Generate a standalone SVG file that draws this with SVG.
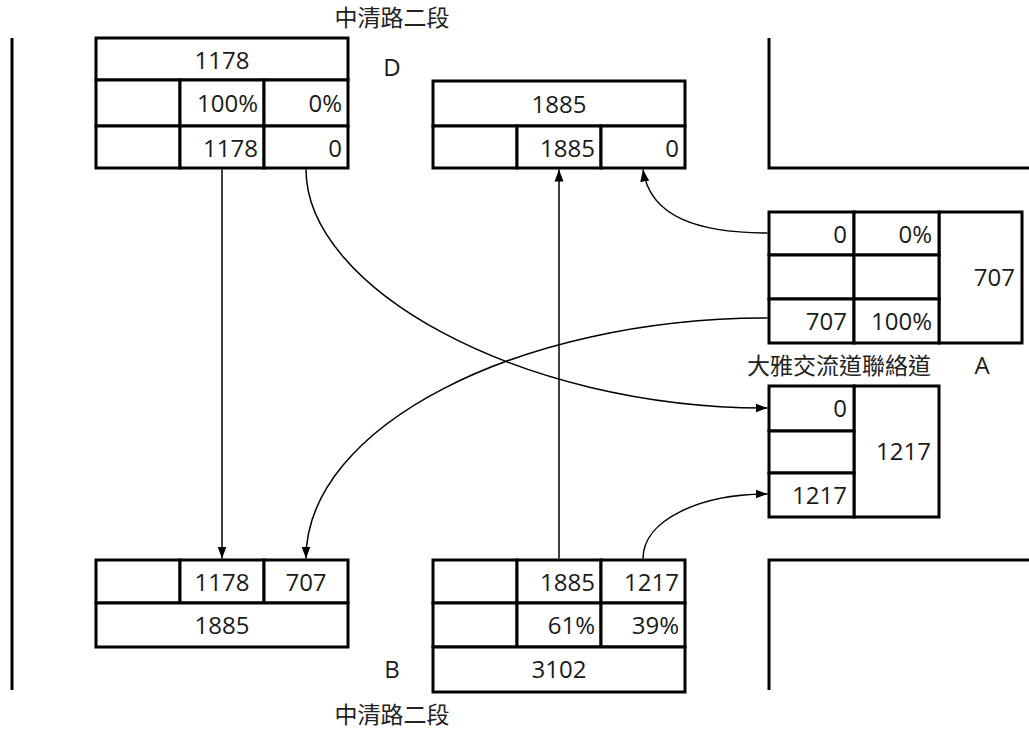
<svg xmlns="http://www.w3.org/2000/svg" width="1029" height="731" viewBox="0 0 1029 731">
<style>
.c{fill:#fff;stroke:#000;stroke-width:3}
.w{fill:none;stroke:#000;stroke-width:3}
.t{font-family:"Open Sans","Noto Sans CJK TC",sans-serif;font-size:24px;fill:#1a1a1a}
.m{text-anchor:middle}
.r{text-anchor:end}
.zh{font-family:"Noto Sans CJK TC",sans-serif;font-size:23px;fill:#222}
.e{fill:none;stroke:#000;stroke-width:1.5}
</style>
<defs>
<marker id="ah" markerUnits="userSpaceOnUse" markerWidth="12" markerHeight="10" refX="12" refY="5" orient="auto">
<path d="M0,0.5 L12,5 L0,9.5 z" fill="#000"/>
</marker>
</defs>
<rect width="1029" height="731" fill="#fff"/>
<g id="walls">
<line class="w" x1="12" y1="38" x2="12" y2="690"/>
<polyline class="w" points="769,38 769,168 1029,168"/>
<polyline class="w" points="1029,560 769,560 769,690"/>
</g>
<g id="labels">
<text class="zh m" x="392" y="26">中清路二段</text>
<text class="zh m" x="392" y="723">中清路二段</text>
<text class="zh" x="747" y="374">大雅交流道聯絡道</text>
<text class="t m" x="392" y="76">D</text>
<text class="t m" x="392" y="678">B</text>
<text class="t m" x="982" y="374">A</text>
</g>
<g id="nodeD1">
<rect class="c" x="96" y="38" width="252" height="42"/>
<rect class="c" x="96" y="80" width="84" height="46"/>
<rect class="c" x="180" y="80" width="84" height="46"/>
<rect class="c" x="264" y="80" width="84" height="46"/>
<rect class="c" x="96" y="126" width="84" height="42"/>
<rect class="c" x="180" y="126" width="84" height="42"/>
<rect class="c" x="264" y="126" width="84" height="42"/>
<text class="t m" x="222" y="69">1178</text>
<text class="t r" x="258" y="112">100%</text>
<text class="t r" x="342" y="112">0%</text>
<text class="t r" x="258" y="156.5">1178</text>
<text class="t r" x="342" y="156.5">0</text>
</g>
<g id="nodeD2">
<rect class="c" x="433" y="81" width="252" height="45"/>
<rect class="c" x="433" y="126" width="84" height="42"/>
<rect class="c" x="517" y="126" width="84" height="42"/>
<rect class="c" x="601" y="126" width="84" height="42"/>
<text class="t m" x="559" y="112.5">1885</text>
<text class="t r" x="595" y="156.5">1885</text>
<text class="t r" x="679" y="156.5">0</text>
</g>
<g id="nodeA1">
<rect class="c" x="939" y="212" width="83" height="131"/>
<rect class="c" x="769" y="212" width="85" height="43"/>
<rect class="c" x="854" y="212" width="85" height="43"/>
<rect class="c" x="769" y="255" width="85" height="44"/>
<rect class="c" x="854" y="255" width="85" height="44"/>
<rect class="c" x="769" y="299" width="85" height="44"/>
<rect class="c" x="854" y="299" width="85" height="44"/>
<text class="t r" x="847" y="243">0</text>
<text class="t r" x="932" y="243">0%</text>
<text class="t r" x="847" y="330">707</text>
<text class="t r" x="932" y="330">100%</text>
<text class="t r" x="1015" y="286">707</text>
</g>
<g id="nodeA2">
<rect class="c" x="854" y="386" width="85" height="131"/>
<rect class="c" x="769" y="386" width="85" height="45"/>
<rect class="c" x="769" y="431" width="85" height="42"/>
<rect class="c" x="769" y="473" width="85" height="44"/>
<text class="t r" x="847" y="417">0</text>
<text class="t r" x="847" y="503.5">1217</text>
<text class="t r" x="931" y="460">1217</text>
</g>
<g id="nodeB1">
<rect class="c" x="96" y="560" width="84" height="43"/>
<rect class="c" x="180" y="560" width="84" height="43"/>
<rect class="c" x="264" y="560" width="84" height="43"/>
<rect class="c" x="96" y="603" width="252" height="44"/>
<text class="t m" x="222" y="590.5">1178</text>
<text class="t m" x="306" y="590.5">707</text>
<text class="t m" x="222" y="634">1885</text>
</g>
<g id="nodeB2">
<rect class="c" x="433" y="560" width="84" height="43"/>
<rect class="c" x="517" y="560" width="84" height="43"/>
<rect class="c" x="601" y="560" width="84" height="43"/>
<rect class="c" x="433" y="603" width="84" height="44"/>
<rect class="c" x="517" y="603" width="84" height="44"/>
<rect class="c" x="601" y="603" width="84" height="44"/>
<rect class="c" x="433" y="647" width="252" height="45"/>
<text class="t r" x="595" y="590.5">1885</text>
<text class="t r" x="679" y="590.5">1217</text>
<text class="t r" x="595" y="634">61%</text>
<text class="t r" x="679" y="634">39%</text>
<text class="t m" x="559" y="678">3102</text>
</g>
<g id="connectors">
<line class="e" x1="222" y1="169.5" x2="222" y2="558.5" marker-end="url(#ah)"/>
<line class="e" x1="559" y1="558.5" x2="559" y2="169.5" marker-end="url(#ah)"/>
<path class="e" d="M306,169.5 C306,288 519,408 767.5,408" marker-end="url(#ah)"/>
<path class="e" d="M767.5,318 C519,318 306,426 306,558.5" marker-end="url(#ah)"/>
<path class="e" d="M767.5,233 C700,233 650,218 643,169.5" marker-end="url(#ah)"/>
<path class="e" d="M643,558.5 C643,520 700,494 767.5,494" marker-end="url(#ah)"/>
</g>
</svg>
